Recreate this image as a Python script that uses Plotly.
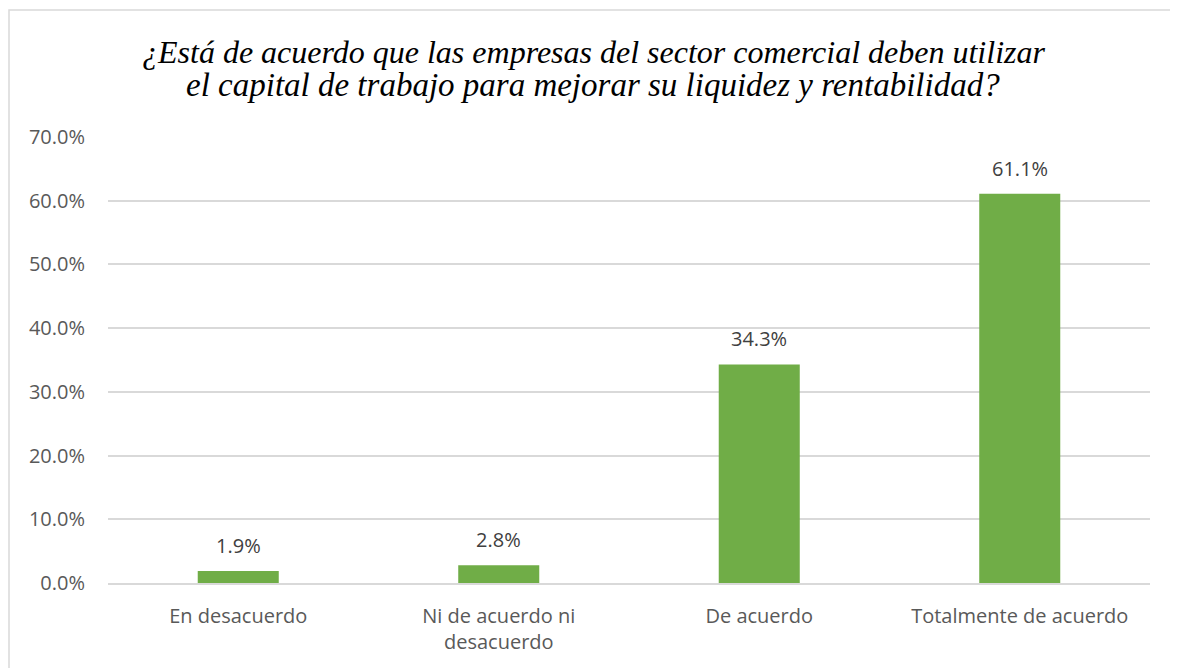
import plotly.graph_objects as go

categories = ["En desacuerdo", "Ni de acuerdo ni<br>desacuerdo", "De acuerdo", "Totalmente de acuerdo"]
values = [0.019, 0.028, 0.343, 0.611]
value_labels = ["1.9%", "2.8%", "34.3%", "61.1%"]
tick_vals = [0, 0.1, 0.2, 0.3, 0.4, 0.5, 0.6, 0.7]
tick_text = ["0.0%", "10.0%", "20.0%", "30.0%", "40.0%", "50.0%", "60.0%", "70.0%"]
title_lines = ["¿Está de acuerdo que las empresas del sector comercial deben utilizar",
               "el capital de trabajo para mejorar su liquidez y rentabilidad?"]

W, H = 1170, 660
L, R, T, B = 100, 28, 129, 85
PH = H - T - B
PW = W - L - R

fig = go.Figure()
fig.add_trace(go.Bar(
    x=categories, y=values,
    marker=dict(color="#70ad47", line=dict(width=0)),
    hoverinfo="skip",
))

for c, v, t in zip(categories, values, value_labels):
    fig.add_annotation(x=c, y=v, text=t, showarrow=False, yanchor="bottom",
                       yshift=10, font=dict(family="Open Sans", size=20, color="#404040"))

title_y = [44, 77]
title_size = [32, 33]
for line, ty, ts in zip(title_lines, title_y, title_size):
    fig.add_annotation(xref="paper", yref="paper", x=(585 - L) / PW, y=(H - B - ty) / PH,
                       xanchor="center", yanchor="middle", showarrow=False, text=line,
                       font=dict(family="Liberation Serif", size=ts, color="#000000", style="italic"))

fig.update_layout(
    width=W, height=H,
    margin=dict(l=L, r=R, t=T, b=B),
    paper_bgcolor="white", plot_bgcolor="white",
    bargap=0.689,
    showlegend=False,
    xaxis=dict(showgrid=False, showline=True, linecolor="#d9d9d9", linewidth=1.5,
               ticks="", tickfont=dict(family="Open Sans", size=20, color="#595959"),
               ticklabelstandoff=14),
    yaxis=dict(range=[0, 0.7], tickvals=tick_vals, ticktext=tick_text,
               showgrid=True, gridcolor="#d9d9d9", gridwidth=1.5, zeroline=False,
               showline=False, ticks="", ticklabelstandoff=22,
               tickfont=dict(family="Open Sans", size=20, color="#595959")),
    shapes=[dict(type="rect", xref="paper", yref="paper",
                 x0=(1 - L) / PW, x1=1.2, y0=-0.3, y1=(H - B - 2) / PH,
                 line=dict(color="#d9d9d9", width=1.5), fillcolor="rgba(0,0,0,0)",
                 layer="below")],
)

fig.write_html("out.html")
